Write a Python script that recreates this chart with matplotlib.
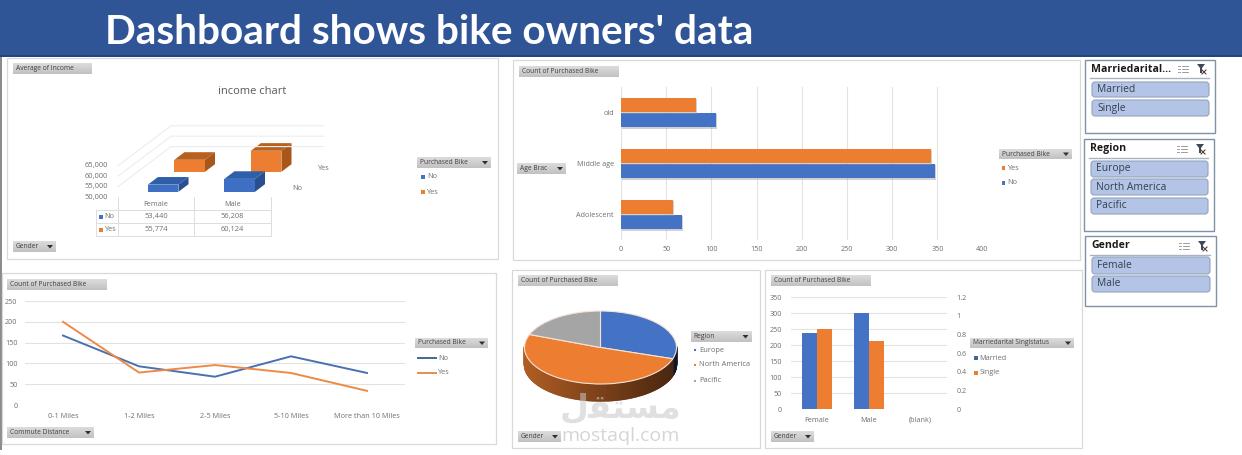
# Bike owners dashboard: pivot charts, filter buttons and slicers on one sheet
import numpy as np
import matplotlib
matplotlib.use("Agg")
import matplotlib.pyplot as plt
import matplotlib.patheffects as pe
from matplotlib.patches import FancyBboxPatch, Polygon, Rectangle

W, H = 1242, 455

BLUE = "#4472C4"
ORANGE = "#ED7D31"
GRAY = "#A5A5A5"
TXT = "#6E6E6E"
GRID = "#E2E2E2"

PURCHASED = ["No", "Yes"]

# income chart
GENDERS = ["Female", "Male"]
INCOME_NO = [53440, 56208]
INCOME_YES = [55774, 60124]
INCOME_TICKS = [50000, 55000, 60000, 65000]

# age bracket chart
AGE_GROUPS = ["Adolescent", "Middle age", "old"]
AGE_NO = [67, 347, 105]
AGE_YES = [57, 343, 83]
AGE_TICKS = [0, 50, 100, 150, 200, 250, 300, 350, 400]

# commute chart
COMMUTE = ["0-1 Miles", "1-2 Miles", "2-5 Miles", "5-10 Miles", "More than 10 Miles"]
COMMUTE_NO = [167, 93, 68, 117, 77]
COMMUTE_YES = [200, 78, 96, 77, 34]
COMMUTE_TICKS = [0, 50, 100, 150, 200, 250]

# region pie
REGIONS = ["Europe", "North America", "Pacific"]
REGION_COUNTS = [300, 508, 192]

# marital status columns
MARITAL_CATS = ["Female", "Male", "(blank)"]
MARRIED = [238, 299, 0]
SINGLE = [249, 213, 0]
MARITAL_LEFT = [0, 50, 100, 150, 200, 250, 300, 350]
MARITAL_RIGHT = [0, 0.2, 0.4, 0.6, 0.8, 1.0, 1.2]
MARITAL_RIGHT_LABELS = ["0", "0.2", "0.4", "0.6", "0.8", "1", "1.2"]

plt.rcParams["font.family"] = ["Open Sans", "DejaVu Sans"]

fig = plt.figure(figsize=(W / 100, H / 100), dpi=100, facecolor="white")


def px_axes(x0, y0, x1, y1, z=1):
    # axes placed by pixel box, y measured from the top
    ax = fig.add_axes([x0 / W, 1 - y1 / H, (x1 - x0) / W, (y1 - y0) / H], zorder=z)
    ax.patch.set_alpha(0)
    return ax


def canvas_axes(z):
    ax = px_axes(0, 0, W, H, z)
    ax.set_xlim(0, W)
    ax.set_ylim(H, 0)
    ax.set_autoscale_on(False)
    ax.axis("off")
    return ax


bg = canvas_axes(0)
top = canvas_axes(5)


def label(x, y, s, size=5.2, color=TXT, ha="left", **kw):
    bg.text(x, y, s, fontsize=size, color=color, ha=ha, va="center", **kw)


def panel(x0, y0, x1, y1):
    bg.add_patch(Rectangle((x0, y0), x1 - x0, y1 - y0, fc="white", ec="#D9D9D9", lw=0.9))


def button(x0, y0, x1, y1, s, arrow=False):
    # grey pivot field button with a soft vertical gradient
    shade = np.linspace(0.86, 0.76, 12).reshape(-1, 1)
    bg.imshow(shade, extent=(x0, x1, y1, y0), cmap="gray", vmin=0, vmax=1, aspect="auto", zorder=2)
    bg.text(x0 + 3, (y0 + y1) / 2, s, fontsize=4.8, color="#3F3F3F", va="center", zorder=3)
    if arrow:
        cx, cy = x1 - 6, (y0 + y1) / 2
        bg.add_patch(Polygon([(cx - 3, cy - 1.5), (cx + 3, cy - 1.5), (cx, cy + 2)], fc="#303030", ec="none", zorder=3))


def legend_squares(x, ys, names, colors, size=5.2, mark=4):
    for y, name, color in zip(ys, names, colors):
        bg.add_patch(Rectangle((x - mark / 2, y - mark / 2), mark, mark, fc=color, ec="none"))
        label(x + 4, y, name, size=size)


def style_axes(ax, size=5.2):
    for s in ax.spines.values():
        s.set_visible(False)
    ax.tick_params(length=0, labelsize=size, labelcolor=TXT)


# header band
bg.add_patch(Rectangle((0, 0), W, 55, fc="#2F5597", ec="none"))
bg.add_patch(Rectangle((0, 55), W, 1.5, fc="#24447E", ec="none"))
bg.add_patch(Rectangle((0, 57), 1.5, 393, fc="#8C8C8C", ec="none"))
bg.text(105, 33, "Dashboard shows bike owners' data", fontsize=29.2, color="white",
        family="Lato", weight="bold", va="center")

# ---- income chart (oblique 3D columns with a data table) ----
panel(7, 58, 498, 259)
button(13, 63, 92, 74, "Average of Income")
button(13, 241, 56, 252, "Gender", arrow=True)
button(417, 157, 491, 168, "Purchased Bike", arrow=True)
legend_squares(423, [177, 192], PURCHASED, [BLUE, ORANGE])
label(252, 91, "income chart", size=8, ha="center", color="#595959")

CAT_PX = 76.5
PX_PER_UNIT = 2.08 / 1000
DEPTH_X = 26.5 / CAT_PX          # category units per depth row
DEPTH_Y = 20 / PX_PER_UNIT       # income units per depth row
inc = px_axes(118, 110, 118 + 3 * CAT_PX, 197)
inc.set_xlim(0, 3)
inc.set_ylim(50000, 50000 + 87 / PX_PER_UNIT)
inc.axis("off")


def project(x, depth, value):
    return x + depth * DEPTH_X, value + depth * DEPTH_Y


for v in INCOME_TICKS[1:]:
    wall = [project(0, 0, v), project(0, 2, v), project(2, 2, v)]
    inc.plot(*zip(*wall), color="#EDEDED", lw=0.8, clip_on=False)


def column(cat, depth, value, front, roof, side):
    half = 0.2
    bar_depth = 0.38
    base = INCOME_TICKS[0]
    x0, x1 = cat + 0.5 - half, cat + 0.5 + half
    d0, d1 = depth, depth + bar_depth
    inc.add_patch(Polygon([project(x0, d0, value), project(x1, d0, value),
                           project(x1, d1, value), project(x0, d1, value)], fc=roof, ec="none"))
    inc.add_patch(Polygon([project(x1, d0, base), project(x1, d1, base),
                           project(x1, d1, value), project(x1, d0, value)], fc=side, ec="none"))
    inc.add_patch(Polygon([project(x0, d0, base), project(x1, d0, base),
                           project(x1, d0, value), project(x0, d0, value)], fc=front, ec="none"))


for i, v in enumerate(INCOME_YES):
    column(i, 1.26, v, ORANGE, "#B8611F", "#A9561B")
for i, v in enumerate(INCOME_NO):
    column(i, 0.26, v, "#3F6FC4", "#2F5FA8", "#2A4F8E")

for i, v in enumerate(INCOME_TICKS):
    label(108, 197 - (v - 50000) * PX_PER_UNIT, f"{v:,}", ha="right", size=5.4)
label(324, 168, "Yes", ha="center")
label(297, 188, "No", ha="center")

# data table under the columns
for y in [210, 223, 236]:
    bg.plot([96, 271], [y, y], color="#DDDDDD", lw=0.7)
bg.plot([96, 96], [210, 236], color="#DDDDDD", lw=0.7)
for x in [118, 194, 271]:
    bg.plot([x, x], [197, 236], color="#DDDDDD", lw=0.7)
for i, g in enumerate(GENDERS):
    label(156 + i * CAT_PX, 205, g, ha="center")
    label(156 + i * CAT_PX, 216.5, f"{INCOME_NO[i]:,}", ha="center", size=5.4)
    label(156 + i * CAT_PX, 229.5, f"{INCOME_YES[i]:,}", ha="center", size=5.4)
legend_squares(100.5, [216.5, 229.5], PURCHASED, [BLUE, ORANGE])

# ---- age bracket chart ----
panel(513, 60, 1080, 260)
button(519, 66, 619, 77, "Count of Purchased Bike")
button(517, 163, 566, 174, "Age Brac", arrow=True)
button(999, 149, 1072, 159, "Purchased Bike", arrow=True)
legend_squares(1003.5, [168, 183], ["Yes", "No"], [ORANGE, BLUE], mark=3.5)

age = px_axes(621, 87, 982.5, 240)
pos = np.arange(len(AGE_GROUPS))
shadow = [pe.SimplePatchShadow(offset=(0.8, -1), shadow_rgbFace="#9A9A9A", alpha=0.45), pe.Normal()]
age.barh(pos - 0.146, AGE_NO, 0.29, color=BLUE, path_effects=shadow, zorder=3)
age.barh(pos + 0.146, AGE_YES, 0.29, color=ORANGE, path_effects=shadow, zorder=3)
age.set_xlim(0, 400)
age.set_ylim(-0.5, 2.5)
age.set_xticks(AGE_TICKS)
age.set_yticks(pos, AGE_GROUPS)
age.grid(axis="x", color=GRID, lw=0.8, zorder=0)
age.set_axisbelow(True)
style_axes(age)
age.tick_params(axis="x", pad=4.5)
age.tick_params(axis="y", pad=5)

# ---- commute distance chart ----
panel(2, 273, 496, 444)
button(7, 279, 107, 290, "Count of Purchased Bike")
button(7, 427, 94, 438, "Commute Distance", arrow=True)
button(415, 338, 488, 348, "Purchased Bike", arrow=True)
for y, name, color in zip([358, 373], PURCHASED, ["#44688F", "#E0904F"]):
    bg.plot([418, 436], [y, y], color=color, lw=1.4)
    label(438, y, name)

com = px_axes(25, 301, 405, 405)
xs = np.arange(len(COMMUTE))
com.plot(xs, COMMUTE_NO, color="#4A70B0", lw=1.4, zorder=3)
com.plot(xs, COMMUTE_YES, color="#ED8A45", lw=1.4, zorder=3)
com.set_xlim(-0.5, 4.5)
com.set_ylim(0, 250)
com.set_xticks(xs, COMMUTE)
com.set_yticks(COMMUTE_TICKS)
com.grid(axis="y", color=GRID, lw=0.8, zorder=0)
style_axes(com)
com.tick_params(axis="x", pad=5.5)
com.tick_params(axis="y", pad=5.5)

# ---- region pie ----
panel(512, 270, 760, 448)
button(518, 275, 618, 286, "Count of Purchased Bike")
button(518, 431, 561, 442, "Gender", arrow=True)
button(690.5, 331, 751.5, 342, "Region", arrow=True)
legend_squares(695, [350, 365, 381], REGIONS, [BLUE, ORANGE, GRAY], mark=2.5, size=5.4)

RX, RY, RIM = 76, 36.5, 17
cx, cy = 600.5, 347.5
pie = px_axes(510, 300, 690, 420)
fractions = np.array(REGION_COUNTS) / sum(REGION_COUNTS)
edges = 90 - 360 * np.concatenate([[0], np.cumsum(fractions)])
rim_depth = RIM / RY

# rim first, shaded darker towards the right
for start, end, base in zip(edges[:-1], edges[1:], [(0.20, 0.30, 0.55), (0.93, 0.49, 0.19), (0.5, 0.5, 0.5)]):
    steps = np.append(np.arange(start, end, -1.0), end)
    for a, b in zip(steps[:-1], steps[1:]):
        ra, rb = np.radians([a, b])
        if np.sin(ra) > 0.02 and np.sin(rb) > 0.02:
            continue
        shade = 0.74 - 0.44 * (np.cos(ra) + 1) / 2
        c = tuple(shade * np.array(base))
        pie.fill([np.cos(ra), np.cos(rb), np.cos(rb), np.cos(ra)],
                 [np.sin(ra), np.sin(rb), np.sin(rb) - rim_depth, np.sin(ra) - rim_depth],
                 color=c, lw=1.0)

pie.pie(REGION_COUNTS, colors=[BLUE, ORANGE, GRAY], startangle=90, counterclock=False, radius=1,
        wedgeprops={"edgecolor": "#F6E3D6", "linewidth": 0.8})
pie.set_aspect("auto")
pie.set_xlim(-(cx - 510) / RX, (690 - cx) / RX)
pie.set_ylim(-(420 - cy) / RY, (cy - 300) / RY)

# ---- marital status columns ----
panel(765, 270, 1082, 448)
button(771, 275, 871, 286, "Count of Purchased Bike")
button(771, 431, 814, 442, "Gender", arrow=True)
button(970, 338, 1074, 348, "Marriedarital Singlstatus", arrow=True)
legend_squares(975.5, [358, 373], ["Married", "Single"], ["#44649F", ORANGE])

mar = px_axes(791, 297, 946.5, 409)
cats = np.arange(len(MARITAL_CATS))
mar.bar(cats - 0.145, MARRIED, 0.29, color=BLUE, zorder=3)
mar.bar(cats + 0.145, SINGLE, 0.29, color=ORANGE, zorder=3)
mar.set_xlim(-0.5, 2.5)
mar.set_ylim(0, 350)
mar.set_xticks(cats, MARITAL_CATS)
mar.set_yticks(MARITAL_LEFT)
mar.grid(axis="y", color=GRID, lw=0.8, zorder=0)
style_axes(mar)
mar.tick_params(axis="x", pad=5.5)
mar.tick_params(axis="y", pad=6.5)

mar2 = mar.twinx()
mar2.patch.set_alpha(0)
mar2.set_ylim(0, 1.2)
mar2.set_yticks(MARITAL_RIGHT, MARITAL_RIGHT_LABELS)
style_axes(mar2)
mar2.tick_params(axis="y", pad=7)


# ---- slicers ----
def slicer(x0, y0, x1, y1, title, items, title_y, sep_y, rows):
    bg.add_patch(Rectangle((x0, y0), x1 - x0, y1 - y0, fc="white", ec="#7F93A6", lw=1.0))
    bg.text(x0 + 6, title_y, title, fontsize=7.6, weight="bold", color="#1A1A1A", va="center")
    bg.plot([x0 + 5, x1 - 6], [sep_y, sep_y], color="#A9B4BF", lw=1.0)
    # multi-select icon
    ix = x1 - 33
    for k in (-3, 0, 3):
        bg.plot([ix - 4, ix - 2], [title_y + k, title_y + k], color="#8C8C8C", lw=0.6)
        bg.plot([ix, ix + 6], [title_y + k, title_y + k], color="#8C8C8C", lw=0.6)
    # clear filter icon
    fx = x1 - 14
    bg.add_patch(Polygon([(fx - 4, title_y - 5), (fx + 4, title_y - 5), (fx + 1, title_y - 1),
                          (fx + 1, title_y + 4), (fx - 1, title_y + 4), (fx - 1, title_y - 1)],
                         fc="#3C4A57", ec="none"))
    bg.plot([fx + 1, fx + 5], [title_y + 1, title_y + 5], color="#5A3A3A", lw=0.8)
    bg.plot([fx + 5, fx + 1], [title_y + 1, title_y + 5], color="#5A3A3A", lw=0.8)
    for (r0, r1), item in zip(rows, items):
        bg.add_patch(FancyBboxPatch((x0 + 7, r0), x1 - x0 - 13, r1 - r0,
                                    boxstyle="round,pad=0,rounding_size=3",
                                    fc="#B4C4E6", ec="#94A4BC", lw=0.8))
        bg.text(x0 + 12, (r0 + r1) / 2, item, fontsize=7.4, color="#33404D", va="center")


slicer(1085, 60, 1215, 133, "Marriedarital...", ["Married", "Single"], 69, 78, [(82, 97), (100, 116)])
slicer(1084, 139, 1214, 231, "Region", REGIONS, 149, 158, [(161, 177), (179, 195), (198, 214)])
slicer(1085, 236, 1216, 306, "Gender", GENDERS, 246, 255, [(257, 274), (276, 292)])

# site mark over the lower charts
top.text(621, 408, "\ufedd\ufed8\ufe98\ufeb4\ufee3", fontsize=24, color="#C8C8C8", alpha=0.55,
         family="DejaVu Sans", weight="bold", ha="center", va="center")
top.text(621, 436, "mostaql.com", fontsize=14, color="#C8C8C8", alpha=0.75, ha="center", va="center")

fig.savefig("out.png", dpi=100)
